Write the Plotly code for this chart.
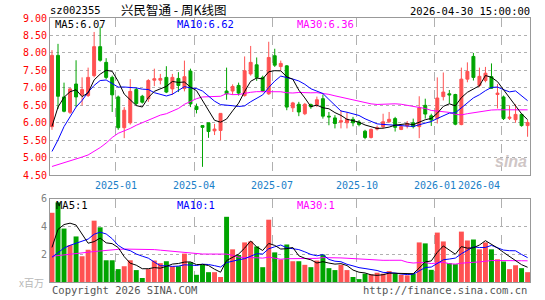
import plotly.graph_objects as go

# ---------------- data (weekly K-line) ----------------
opens = [5.89, 7.93, 6.74, 6.30, 7.11, 6.80, 6.78, 7.35, 8.18, 7.73,
         7.30, 6.74, 5.86, 6.00, 6.95, 6.76, 6.69, 7.22, 7.22, 7.30,
         6.97, 7.27, 6.98, 7.48, 6.47, 5.92, 6.00, 5.77, 5.78, 6.91,
         6.91, 7.07, 6.78, 7.40, 7.66, 7.30, 6.83, 7.92, 7.61, 7.63,
         6.43, 6.53, 6.26, 6.52, 6.52, 6.69, 6.19, 6.14, 6.02, 6.00,
         6.10, 6.02, 5.76, 5.58, 5.82, 5.89, 6.03, 6.12, 5.81, 5.91,
         6.00, 5.89, 6.50, 6.20, 6.12, 6.75, 6.83, 6.81, 5.95, 7.25,
         7.90, 7.07, 7.21, 7.32, 6.81, 6.74, 6.13, 6.09, 6.24, 5.92]
highs = [8.08, 8.26, 7.15, 7.00, 7.79, 7.30, 7.58, 8.60, 8.75, 7.85,
         7.35, 6.78, 6.45, 7.25, 7.00, 6.80, 7.25, 7.55, 7.40, 7.62,
         7.40, 7.45, 7.78, 7.55, 6.55, 5.92, 6.00, 5.97, 6.28, 7.58,
         7.10, 7.15, 7.90, 8.20, 7.87, 7.35, 8.32, 8.12, 7.78, 7.65,
         6.60, 6.60, 6.57, 6.55, 6.75, 6.81, 6.31, 6.22, 6.36, 6.30,
         6.17, 6.08, 5.80, 5.84, 5.92, 6.26, 6.31, 6.17, 5.93, 6.05,
         6.12, 6.76, 6.69, 6.26, 7.30, 7.44, 6.94, 6.83, 7.58, 7.73,
         8.00, 7.58, 7.60, 7.70, 7.11, 6.78, 6.50, 6.53, 6.26, 6.08]
lows = [5.80, 6.40, 6.30, 6.25, 6.45, 6.50, 6.74, 7.30, 7.75, 7.25,
        6.31, 5.80, 5.56, 5.95, 6.50, 6.55, 6.60, 7.05, 7.10, 6.85,
        6.80, 6.88, 6.90, 6.45, 6.27, 4.74, 5.57, 5.65, 5.50, 6.66,
        6.80, 6.78, 6.75, 7.35, 7.20, 6.88, 6.80, 7.60, 7.50, 6.36,
        6.31, 6.19, 6.22, 6.40, 6.45, 6.12, 5.93, 5.84, 5.84, 5.84,
        5.90, 5.90, 5.53, 5.55, 5.78, 5.84, 6.00, 5.75, 5.79, 5.84,
        5.84, 5.56, 6.12, 5.91, 5.98, 6.64, 6.55, 5.93, 5.93, 7.16,
        7.21, 7.02, 7.16, 6.97, 6.41, 6.08, 6.08, 6.00, 5.89, 5.60]
closes = [7.93, 6.76, 6.33, 6.97, 6.74, 6.95, 7.30, 8.18, 7.79, 7.30,
          6.80, 5.86, 6.36, 6.90, 6.55, 6.59, 7.21, 7.26, 7.27, 6.88,
          7.30, 7.07, 7.32, 6.54, 6.38, 5.87, 5.75, 5.82, 6.27, 6.83,
          7.04, 6.85, 7.49, 7.73, 7.30, 6.91, 7.87, 7.65, 7.70, 6.45,
          6.57, 6.31, 6.53, 6.46, 6.66, 6.19, 6.17, 5.98, 6.06, 6.10,
          6.00, 5.95, 5.58, 5.81, 5.86, 6.03, 6.10, 5.87, 5.89, 5.98,
          5.89, 6.43, 6.25, 6.08, 6.71, 6.88, 6.80, 5.96, 7.25, 7.47,
          7.30, 7.33, 7.42, 6.99, 6.85, 6.12, 6.16, 6.24, 5.92, 6.01]
volumes = [5.00, 5.75, 3.86, 2.67, 3.29, 1.86, 2.33, 4.43, 3.95, 1.57,
           1.57, 0.93, 1.14, 1.57, 0.86, 0.29, 0.93, 1.55, 1.36, 1.50,
           1.14, 1.14, 2.05, 1.43, 0.52, 1.24, 0.71, 0.71, 0.36, 4.71,
           2.36, 1.95, 2.86, 2.93, 2.57, 1.07, 4.50, 2.14, 1.62, 2.71,
           1.50, 1.50, 1.24, 1.07, 1.55, 1.98, 1.00, 0.86, 1.24, 0.86,
           0.36, 0.21, 0.60, 0.55, 0.67, 0.60, 0.79, 0.60, 0.52, 0.48,
           0.60, 2.86, 2.79, 0.88, 3.57, 2.93, 1.36, 1.29, 3.64, 3.00,
           3.07, 2.36, 2.86, 2.36, 1.64, 1.48, 0.93, 1.21, 1.00, 0.71]

# moving-average values for the first weeks (history before the window)
ma5_head = [5.90, 6.45, 6.73, 6.89]
ma10_head = [5.18, 5.51, 5.89, 6.17, 6.45, 6.64, 6.88, 7.07, 7.21]
ma30_head = [4.75, 4.80, 4.85, 4.92, 4.96, 5.02, 5.08, 5.18, 5.29, 5.42,
             5.58, 5.70, 5.76, 5.84, 5.93, 6.00, 6.08, 6.15, 6.22, 6.26,
             6.33, 6.41, 6.53, 6.62, 6.69, 6.74, 6.75, 6.76, 6.76]
vma5_head = [2.50, 3.80, 4.15, 4.25]
vma10_head = [1.79, 2.10, 2.45, 2.65, 2.80, 2.95, 3.10, 3.45, 3.60]
vma30_head = [1.86, 1.90, 1.95, 2.00, 2.05, 2.10, 2.15, 2.20, 2.25, 2.30,
              2.33, 2.36, 2.38, 2.38, 2.38, 2.38, 2.36, 2.34, 2.30, 2.26,
              2.20, 2.16, 2.10, 2.06, 2.03, 2.02, 2.02, 2.00, 1.98]

month_labels = ["2025-01", "2025-04", "2025-07", "2025-10", "2026-01", "2026-04"]
month_index = [11, 24, 37, 51, 64, 75]   # first week of each month
price_ticks = [4.5, 5.0, 5.5, 6.0, 6.5, 7.0, 7.5, 8.0, 8.5, 9.0]
vol_ticks = [2, 4, 6]

title_code = "sz002355"
title_name = "兴民智通 - 周K线图"
title_time = "2026-04-30 15:00:00"
legend_price = ["MA5:6.07", "MA10:6.62", "MA30:6.36"]
legend_vol = ["MA5:1", "MA10:1", "MA30:1"]


def moving_avg(series, n, head):
    out = list(head)
    for i in range(len(head), len(series)):
        out.append(sum(series[i - n + 1:i + 1]) / n)
    return out


ma5 = moving_avg(closes, 5, ma5_head)
ma10 = moving_avg(closes, 10, ma10_head)
ma30 = moving_avg(closes, 30, ma30_head)
vma5 = moving_avg(volumes, 5, vma5_head)
vma10 = moving_avg(volumes, 10, vma10_head)
vma30 = moving_avg(volumes, 30, vma30_head)

# ---------------- styles ----------------
RED = "#ff5252"
GREEN = "#00a400"
MA_COLORS = ["#000000", "#0000ff", "#ff00ff"]
GRID = "#b0b0b0"
FRAME = "#999999"
MONO = "DejaVu Sans Mono, Liberation Mono, monospace"

idx = list(range(len(closes)))
xr = [-0.33, len(closes) - 0.6]
grid_x = [m - 0.4 for m in month_index]

fig = go.Figure()
fig.add_trace(go.Candlestick(
    x=idx, open=opens, high=highs, low=lows, close=closes,
    increasing=dict(line=dict(color=RED, width=1), fillcolor=RED),
    decreasing=dict(line=dict(color=GREEN, width=1), fillcolor=GREEN),
    whiskerwidth=0, xaxis="x", yaxis="y", hoverinfo="skip"))
for s, c in zip([ma30, ma10, ma5], MA_COLORS[::-1]):
    fig.add_trace(go.Scatter(x=idx, y=s, mode="lines", line=dict(color=c, width=1),
                             xaxis="x", yaxis="y", hoverinfo="skip"))

bar_colors = [RED if c >= o else GREEN for o, c in zip(opens, closes)]
fig.add_trace(go.Bar(x=idx, y=volumes, marker=dict(color=bar_colors, line=dict(width=0)),
                     width=0.82, xaxis="x2", yaxis="y2", hoverinfo="skip"))
for s, c in zip([vma30, vma10, vma5], MA_COLORS[::-1]):
    fig.add_trace(go.Scatter(x=idx, y=s, mode="lines", line=dict(color=c, width=1),
                             xaxis="x2", yaxis="y2", hoverinfo="skip"))

H_TOP, H_BOT = 18, 285
def py(Y):
    return (H_BOT - Y) / (H_BOT - H_TOP)
def px(X):
    return (X - 50) / 480.0

axis_common = dict(showline=True, mirror=True, linecolor=FRAME, linewidth=1,
                   zeroline=False, ticks="", fixedrange=True)
xaxis_common = dict(axis_common, range=xr, tickvals=grid_x, showticklabels=False,
                    showgrid=True, gridcolor=GRID, griddash="dash", gridwidth=1)

fig.update_layout(
    width=545, height=300,
    margin=dict(l=50, r=15, t=18, b=15),
    paper_bgcolor="white", plot_bgcolor="white",
    showlegend=False, bargap=0.2,
    xaxis=dict(xaxis_common, anchor="y", domain=[0, 1], rangeslider=dict(visible=False)),
    yaxis=dict(axis_common, anchor="x", domain=[py(177), 1], range=[4.5, 9.0],
               tickvals=price_ticks, ticktext=["%.2f" % v for v in price_ticks],
               tickfont=dict(family=MONO, size=10, color="#ff0000"),
               showgrid=True, gridcolor=GRID, griddash="dot", gridwidth=1),
    xaxis2=dict(xaxis_common, anchor="y2", domain=[0, 1]),
    yaxis2=dict(axis_common, anchor="x2", domain=[0, py(201)], range=[0, 6],
                tickvals=vol_ticks, ticktext=[str(v) for v in vol_ticks],
                tickfont=dict(family=MONO, size=10, color="#808080"),
                showgrid=True, gridcolor=GRID, griddash="dot", gridwidth=1),
)

ann = []
def text(x, y, s, color="#000000", size=10, family=MONO, xanchor="left", **kw):
    ann.append(dict(x=x, y=y, xref="paper", yref="paper", text=s, showarrow=False,
                    xanchor=xanchor, yanchor="middle",
                    font=dict(family=family, size=size, color=color), **kw))

text(px(48), py(10), title_code, size=10.5)
text(px(119), py(9.5), title_name, size=12.5, family="Noto Sans CJK SC")
text(px(532), py(10.5), title_time, xanchor="right", size=10.5)

for s, x, c in zip(legend_price, [53, 175, 295], MA_COLORS):
    text(px(x), py(24), s, color=c, size=10.5)
for s, x, c in zip(legend_vol, [54, 175, 295], MA_COLORS):
    text(px(x), py(207), s, color=c, size=10.5)

for i, (lab, gx) in enumerate(zip(month_labels, grid_x)):
    last = i == len(month_labels) - 1
    ann.append(dict(x=gx, y=py(187), xref="x", yref="paper", text=lab, showarrow=False,
                    xanchor="center", yanchor="middle", xshift=-22 if last else 0,
                    font=dict(family=MONO, size=10, color="#1a80c8")))

text(px(46), py(286), "x百万", xanchor="right", color="#b8b8b8", size=10,
     family="Noto Sans CJK SC")
text(px(50), py(293.5), "Copyright 2026 SINA.COM", color="#555555", size=10.5)
text(px(529), py(293.5), "http://finance.sina.com.cn", color="#555555", size=10.5,
     xanchor="right")
text(px(529), py(163), "<b><i>sina</i></b>", color="#cfc6c6", size=16,
     family="Arial, Liberation Sans, sans-serif", xanchor="right")

fig.update_layout(annotations=ann)
fig.write_html("out.html")
